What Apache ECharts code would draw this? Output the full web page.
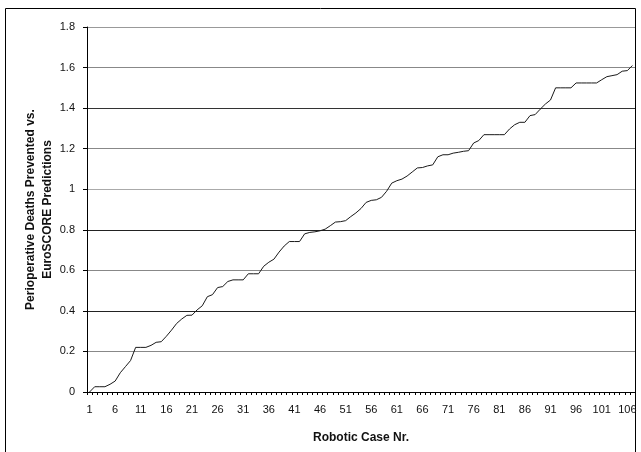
<!DOCTYPE html>
<html>
<head>
<meta charset="utf-8">
<script src="https://cdn.jsdelivr.net/npm/echarts@6/dist/echarts.min.js"></script>
<style>
html,body{margin:0;padding:0;background:#fff;}
#main{width:641px;height:452px;}
</style>
</head>
<body>
<div id="main"></div>
<script>
// cumulative deaths prevented, one value per robotic case
var deaths = [
    0, 0.026, 0.026, 0.026, 0.038, 0.054, 0.095, 0.125, 0.155, 0.22,
    0.22, 0.22, 0.23, 0.245, 0.248, 0.275, 0.305, 0.338, 0.36, 0.378,
    0.379, 0.405, 0.425, 0.47, 0.48, 0.515, 0.52, 0.545, 0.553, 0.553,
    0.553, 0.583, 0.583, 0.583, 0.62, 0.64, 0.655, 0.69, 0.72, 0.742,
    0.742, 0.742, 0.78, 0.787, 0.79, 0.795, 0.803, 0.82, 0.838, 0.84,
    0.845, 0.865, 0.883, 0.905, 0.935, 0.945, 0.948, 0.96, 0.99, 1.03,
    1.042, 1.05, 1.065, 1.085, 1.105, 1.107, 1.115, 1.12, 1.16, 1.17,
    1.17, 1.178, 1.182, 1.187, 1.19, 1.228, 1.24, 1.269, 1.269, 1.269,
    1.269, 1.269, 1.297, 1.318, 1.33, 1.33, 1.363, 1.368, 1.395, 1.42,
    1.44, 1.50, 1.50, 1.50, 1.50, 1.524, 1.524, 1.524, 1.524, 1.524,
    1.54, 1.555, 1.56, 1.565, 1.582, 1.585, 1.61
];
var cases = [];
for (var i = 1; i <= deaths.length; i++) {
    cases.push(String(i));
}

var font = 'Liberation Sans, Arial, sans-serif';
var myChart = echarts.init(document.getElementById('main'));
var option = {
    animation: false,
    textStyle: {fontFamily: font},
    graphic: [{
        type: 'rect',
        shape: {x: 5.5, y: 8.5, width: 630, height: 460},
        style: {fill: 'none', stroke: '#000', lineWidth: 1}
    }],
    grid: {left: 87, right: 6, top: 27, bottom: 60},
    xAxis: {
        type: 'category',
        data: cases,
        boundaryGap: true,
        name: 'Robotic Case Nr.',
        nameLocation: 'middle',
        nameGap: 40,
        nameMoveOverlap: false,
        nameTextStyle: {fontSize: 12, fontWeight: 'bold', color: '#111', fontFamily: font},
        axisLine: {lineStyle: {color: '#000', width: 1}},
        axisTick: {show: true, interval: 0, length: 3, lineStyle: {color: '#000'}},
        axisLabel: {interval: 4, fontSize: 11, color: '#111', margin: 12, fontFamily: font},
        splitLine: {show: false}
    },
    yAxis: {
        type: 'value',
        min: 0,
        max: 1.8,
        interval: 0.2,
        name: 'Perioperative Deaths Prevented vs.\nEuroSCORE Predictions',
        nameLocation: 'middle',
        nameGap: 31,
        nameMoveOverlap: false,
        nameTextStyle: {fontSize: 12, fontWeight: 'bold', color: '#111', lineHeight: 17, fontFamily: font},
        axisLine: {show: true, lineStyle: {color: '#000', width: 1}},
        axisTick: {show: true, length: 4, lineStyle: {color: '#000'}},
        axisLabel: {fontSize: 11, color: '#111', margin: 12, fontFamily: font,
            formatter: function (v) { return String(Math.round(v * 10) / 10); }},
        splitLine: {
            show: true,
            lineStyle: {
                color: ['#000', '#888', '#222', '#888', '#222', '#aaa', '#888', '#333', '#888', '#999'],
                width: 1
            }
        }
    },
    series: [{
        type: 'line',
        data: deaths,
        showSymbol: false,
        symbol: 'none',
        lineStyle: {color: '#1a1a1a', width: 1},
        silent: true
    }]
};
myChart.setOption(option);
</script>
</body>
</html>
